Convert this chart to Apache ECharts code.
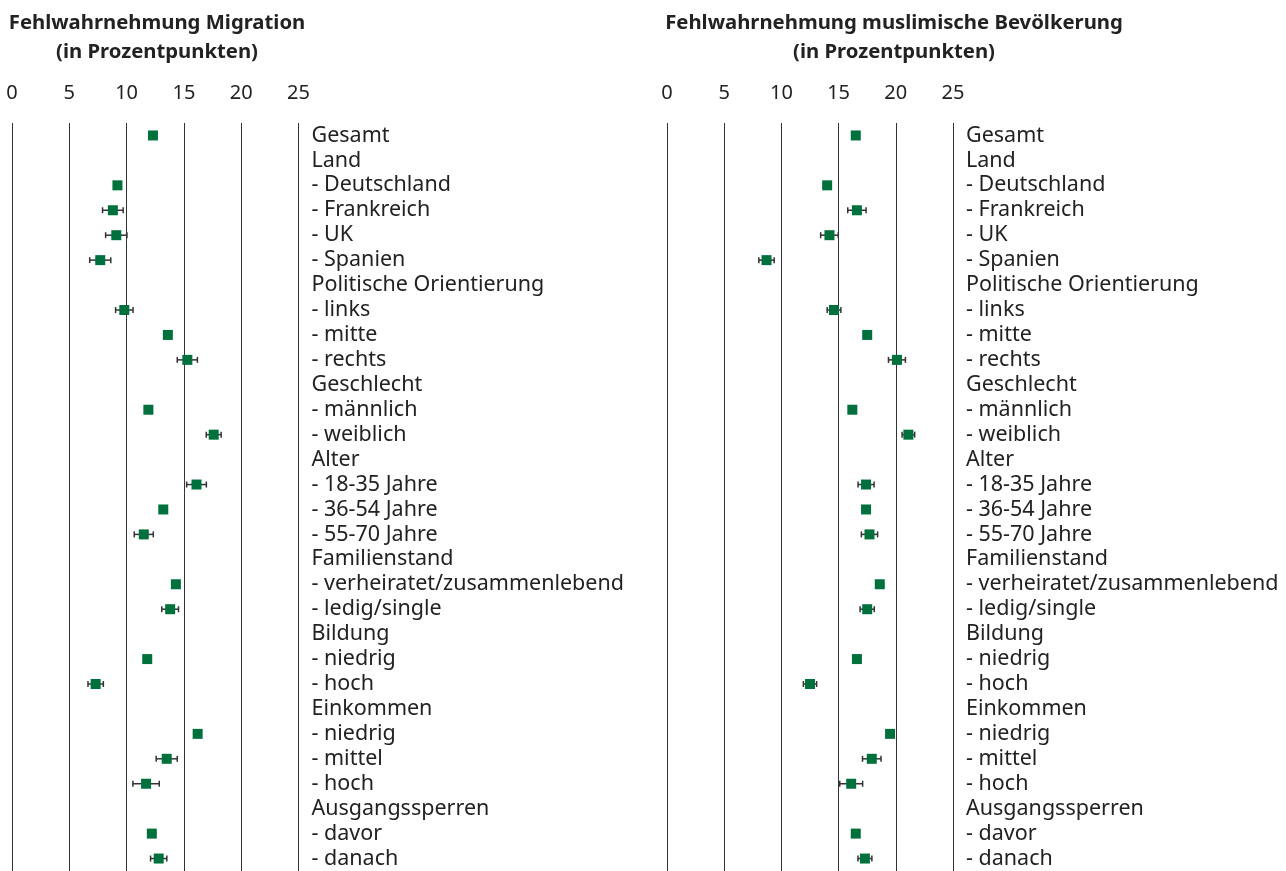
<!DOCTYPE html>
<html>
<head>
<meta charset="utf-8">
<script src="https://cdn.jsdelivr.net/npm/echarts@6/dist/echarts.min.js"></script>
<style>
	html, body { margin: 0; padding: 0; background: #fff; }
	#chart { width: 1286px; height: 871px; }
</style>
</head>
<body>
<div id="chart"></div>
<script>
// Kategorien (Zeilen)
var categories = [
	'Gesamt', 'Land', '- Deutschland', '- Frankreich', '- UK', '- Spanien',
	'Politische Orientierung', '- links', '- mitte', '- rechts',
	'Geschlecht', '- männlich', '- weiblich',
	'Alter', '- 18-35 Jahre', '- 36-54 Jahre', '- 55-70 Jahre',
	'Familienstand', '- verheiratet/zusammenlebend', '- ledig/single',
	'Bildung', '- niedrig', '- hoch',
	'Einkommen', '- niedrig', '- mittel', '- hoch',
	'Ausgangssperren', '- davor', '- danach'
];

// Fehlwahrnehmung Migration (Wert und halbe Breite des Fehlerbalkens)
var migValues = [12.3, null, 9.2, 8.8, 9.1, 7.7, null, 9.8, 13.6, 15.3,
	null, 11.9, 17.6, null, 16.1, 13.2, 11.5, null, 14.3, 13.8,
	null, 11.8, 7.3, null, 16.2, 13.5, 11.7, null, 12.2, 12.8];
var migErr = [null, null, null, 0.9, 0.93, 0.92, null, 0.76, null, 0.88,
	null, null, 0.65, null, 0.86, null, 0.83, null, null, 0.73,
	null, null, 0.67, null, null, 0.92, 1.15, null, null, 0.71];

// Fehlwahrnehmung muslimische Bevölkerung
var musValues = [16.5, null, 14.0, 16.6, 14.2, 8.7, null, 14.6, 17.5, 20.1,
	null, 16.2, 21.1, null, 17.4, 17.4, 17.7, null, 18.6, 17.5,
	null, 16.6, 12.5, null, 19.5, 17.9, 16.1, null, 16.5, 17.3];
var musErr = [null, null, null, 0.8, 0.77, 0.67, null, 0.6, null, 0.74,
	null, null, 0.55, null, 0.7, null, 0.71, null, null, 0.62,
	null, null, 0.58, null, null, 0.81, 1.0, null, null, 0.61];

var xTicks = [0, 5, 10, 15, 20, 25];

var font = '"Noto Sans", sans-serif';
var green = '#00703c';

function pairs(values) {
	var out = [];
	for (var i = 0; i < values.length; i++) {
		if (values[i] !== null) out.push([values[i], i]);
	}
	return out;
}

function errData(values, errs) {
	var out = [];
	for (var i = 0; i < values.length; i++) {
		if (values[i] !== null && errs[i] !== null) {
			out.push([values[i] - errs[i], values[i] + errs[i], i]);
		}
	}
	return out;
}

function renderErr(params, api) {
	var a = api.coord([api.value(0), api.value(2)]);
	var b = api.coord([api.value(1), api.value(2)]);
	var c = 3;
	var style = { stroke: '#333', lineWidth: 1.5 };
	return {
		type: 'group',
		children: [
			{ type: 'line', shape: { x1: a[0], y1: a[1], x2: b[0], y2: b[1] }, style: style },
			{ type: 'line', shape: { x1: a[0], y1: a[1] - c, x2: a[0], y2: a[1] + c }, style: style },
			{ type: 'line', shape: { x1: b[0], y1: b[1] - c, x2: b[0], y2: b[1] + c }, style: style }
		]
	};
}

function xAxis(idx) {
	return {
		gridIndex: idx, type: 'value', position: 'top', min: 0, max: 25, interval: 5,
		axisLine: { show: false }, axisTick: { show: false },
		axisLabel: { color: '#222', fontSize: 20, fontFamily: font, margin: 20,
			formatter: function (v) { return xTicks.indexOf(v) >= 0 ? String(v) : ''; } },
		splitLine: { show: true, lineStyle: { color: '#333', width: 1 } }
	};
}

function yAxis(idx) {
	return {
		gridIndex: idx, type: 'category', data: categories, inverse: true, position: 'right',
		axisLine: { show: false }, axisTick: { show: false }, splitLine: { show: false },
		axisLabel: { color: '#222', fontSize: 21.5, fontFamily: font, margin: 13, align: 'left', interval: 0 }
	};
}

var chart = echarts.init(document.getElementById('chart'));

chart.setOption({
	animation: false,
	backgroundColor: '#fff',
	grid: [
		{ left: 12, top: 123, width: 286.5, height: 751 },
		{ left: 667, top: 123, width: 286, height: 751 }
	],
	xAxis: [xAxis(0), xAxis(1)],
	yAxis: [yAxis(0), yAxis(1)],
	graphic: [
		{ type: 'text', x: 157, y: 9, style: { text: 'Fehlwahrnehmung Migration\n(in Prozentpunkten)',
			font: 'bold 20.3px ' + font, fill: '#222', align: 'center', lineHeight: 29 } },
		{ type: 'text', x: 894, y: 9, style: { text: 'Fehlwahrnehmung muslimische Bevölkerung\n(in Prozentpunkten)',
			font: 'bold 20.3px ' + font, fill: '#222', align: 'center', lineHeight: 29 } }
	],
	series: [
		{ type: 'custom', xAxisIndex: 0, yAxisIndex: 0, data: errData(migValues, migErr),
			renderItem: renderErr, encode: { x: [0, 1], y: 2 }, z: 2 },
		{ type: 'scatter', xAxisIndex: 0, yAxisIndex: 0, data: pairs(migValues),
			symbol: 'rect', symbolSize: 10, itemStyle: { color: green, opacity: 1 }, z: 3 },
		{ type: 'custom', xAxisIndex: 1, yAxisIndex: 1, data: errData(musValues, musErr),
			renderItem: renderErr, encode: { x: [0, 1], y: 2 }, z: 2 },
		{ type: 'scatter', xAxisIndex: 1, yAxisIndex: 1, data: pairs(musValues),
			symbol: 'rect', symbolSize: 10, itemStyle: { color: green, opacity: 1 }, z: 3 }
	]
});
</script>
</body>
</html>
